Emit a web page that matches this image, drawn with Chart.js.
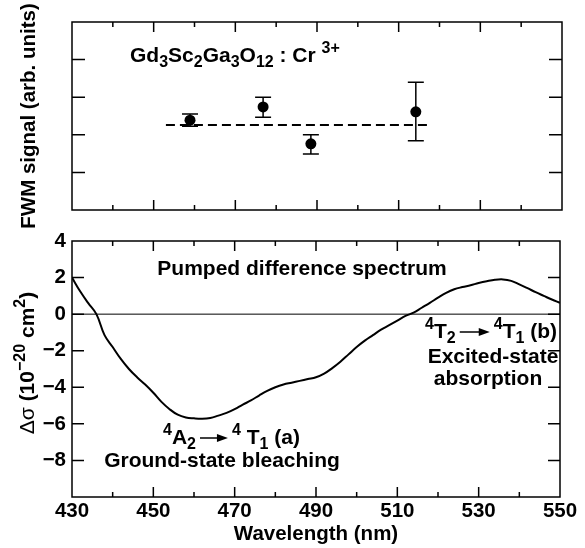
<!DOCTYPE html>
<html>
<head>
<meta charset="utf-8">
<script src="https://cdn.jsdelivr.net/npm/chart.js@4.4.1/dist/chart.umd.min.js"></script>
<style>
  html, body { margin: 0; padding: 0; background: #fff; }
  #wrap { position: relative; width: 585px; height: 548px; }
  canvas { position: absolute; left: 0; }
  #top { top: 0; }
  #bottom { top: 230px; }
</style>
</head>
<body>
<div id="wrap">
  <canvas id="top" width="585" height="230"></canvas>
  <canvas id="bottom" width="585" height="318"></canvas>
</div>
<script>
// Upper panel: FWM signal at four wavelengths
const fwmWavelength = [458.9, 476.8, 488.5, 514.2];
const fwmSignal = [2.39, 2.74, 1.76, 2.61];
const fwmErrLow = [2.23, 2.47, 1.49, 1.84];
const fwmErrHigh = [2.55, 3.00, 2.00, 3.40];
const fwmMeanX = [453.0, 517.2];
const fwmMeanY = [2.26, 2.26];

// Lower panel: pumped difference spectrum
const wavelength = [430, 432, 434, 436, 438, 440, 442, 444, 446, 448, 450, 452, 454, 456, 458, 460,
  462, 464, 466, 468, 470, 472, 474, 476, 478, 480, 482, 484, 486, 488, 490, 492, 494, 496, 498, 500,
  502, 504, 506, 508, 510, 512, 514, 516, 518, 520, 522, 524, 526, 528, 530, 532, 534, 536, 538, 540,
  542, 544, 546, 548, 550];
const deltaSigma = [2.0, 1.25, 0.6, 0.0, -1.15, -1.8, -2.45, -3.0, -3.45, -3.85, -4.3, -4.8, -5.2, -5.5, -5.65, -5.7,
  -5.72, -5.68, -5.55, -5.4, -5.2, -4.95, -4.72, -4.45, -4.2, -4.0, -3.85, -3.75, -3.65, -3.55, -3.45, -3.25,
  -2.95, -2.6, -2.2, -1.8, -1.45, -1.15, -0.85, -0.6, -0.35, -0.1, 0.08, 0.35, 0.62, 0.9, 1.16, 1.36,
  1.48, 1.58, 1.7, 1.8, 1.88, 1.9, 1.82, 1.63, 1.42, 1.2, 1.0, 0.8, 0.62];

// Axis ticks
const xTicksMajor = [450, 470, 490, 510, 530];
const xTicksMinor = [440, 460, 480, 500, 520, 540];
const xTickLabels = [430, 450, 470, 490, 510, 530, 550];
const yTicksTop = [1, 2, 3, 4];
const yTicksBottom = [-8, -6, -4, -2, 0, 2];

const FAMILY = '"Liberation Sans", Arial, Helvetica, sans-serif';
const BIG = 'bold 21px ' + FAMILY;
const SMALL = 'bold 16px ' + FAMILY;
const AXIS_FONT = { family: FAMILY, size: 20.5, weight: 'bold' };

const pts = (xs, ys) => xs.map((x, i) => ({ x, y: ys[i] }));

// keep chart area exactly where the layout padding puts it
const noOverhang = s => { s.paddingTop = 0; s.paddingBottom = 0; s.paddingLeft = 0; s.paddingRight = 0; };

// frame with inward ticks on all four sides
const framePlugin = (yTicks, yLen) => ({
  id: 'frame',
  afterDatasetsDraw(chart) {
    const { ctx, chartArea: a, scales: { x, y } } = chart;
    ctx.save();
    ctx.strokeStyle = '#000';
    ctx.lineWidth = 1.5;
    ctx.strokeRect(a.left, a.top, a.right - a.left, a.bottom - a.top);
    ctx.beginPath();
    for (const v of xTicksMajor.concat(xTicksMinor)) {
      const px = x.getPixelForValue(v);
      const len = xTicksMajor.includes(v) ? 10 : 5;
      ctx.moveTo(px, a.bottom); ctx.lineTo(px, a.bottom - len);
      ctx.moveTo(px, a.top); ctx.lineTo(px, a.top + len);
    }
    for (const v of yTicks) {
      const py = y.getPixelForValue(v);
      ctx.moveTo(a.left, py); ctx.lineTo(a.left + yLen, py);
      ctx.moveTo(a.right, py); ctx.lineTo(a.right - yLen, py);
    }
    ctx.stroke();
    ctx.restore();
  }
});

// text with sub/superscripts and arrows
function richWidth(ctx, parts) {
  let w = 0;
  for (const p of parts) {
    if (p.k === 'arrow') { w += p.w; continue; }
    ctx.font = p.font || (p.k ? SMALL : BIG);
    w += ctx.measureText(p.t).width;
  }
  return w;
}

function drawRich(ctx, parts, x, y, align) {
  const w = richWidth(ctx, parts);
  let cx = align === 'center' ? x - w / 2 : align === 'right' ? x - w : x;
  ctx.textAlign = 'left';
  ctx.textBaseline = 'alphabetic';
  for (const p of parts) {
    if (p.k === 'arrow') {
      const ay = y - 6, x0 = cx + 4, x1 = cx + p.w - 4;
      ctx.beginPath();
      ctx.lineWidth = 1.5;
      ctx.moveTo(x0, ay); ctx.lineTo(x1 - 8, ay);
      ctx.stroke();
      ctx.beginPath();
      ctx.moveTo(x1, ay); ctx.lineTo(x1 - 11, ay - 4); ctx.lineTo(x1 - 11, ay + 4);
      ctx.closePath();
      ctx.fill();
      cx += p.w;
      continue;
    }
    ctx.font = p.font || (p.k ? SMALL : BIG);
    const dy = p.k === 'sub' ? 5 : p.k === 'sup' ? -9 : 0;
    ctx.fillText(p.t, cx, y + dy);
    cx += ctx.measureText(p.t).width;
  }
}

const errorBarPlugin = {
  id: 'errorBars',
  afterDatasetsDraw(chart) {
    const { ctx, scales: { x, y } } = chart;
    ctx.save();
    ctx.strokeStyle = '#000';
    ctx.lineWidth = 1.5;
    ctx.beginPath();
    fwmWavelength.forEach((w, i) => {
      const px = x.getPixelForValue(w);
      const lo = y.getPixelForValue(fwmErrLow[i]);
      const hi = y.getPixelForValue(fwmErrHigh[i]);
      ctx.moveTo(px, lo); ctx.lineTo(px, hi);
      ctx.moveTo(px - 8, lo); ctx.lineTo(px + 8, lo);
      ctx.moveTo(px - 8, hi); ctx.lineTo(px + 8, hi);
    });
    ctx.stroke();
    ctx.fillStyle = '#000';
    drawRich(ctx, [
      { t: 'Gd' }, { t: '3', k: 'sub' }, { t: 'Sc' }, { t: '2', k: 'sub' },
      { t: 'Ga' }, { t: '3', k: 'sub' }, { t: 'O' }, { t: '12', k: 'sub' },
      { t: ' : Cr ' }, { t: '3+', k: 'sup' }
    ], 130, 62, 'left');
    ctx.restore();
  }
};

const labelPlugin = {
  id: 'labels',
  afterDatasetsDraw(chart) {
    const { ctx } = chart;
    ctx.save();
    ctx.fillStyle = '#000';
    ctx.strokeStyle = '#000';
    drawRich(ctx, [{ t: 'Pumped difference spectrum' }], 302, 45, 'center');
    drawRich(ctx, [
      { t: '4', k: 'sup' }, { t: 'A' }, { t: '2', k: 'sub' }, { k: 'arrow', w: 36 },
      { t: '4', k: 'sup' }, { t: ' T' }, { t: '1', k: 'sub' }, { t: ' (a)' }
    ], 163, 214, 'left');
    drawRich(ctx, [{ t: 'Ground-state bleaching' }], 222, 237, 'center');
    drawRich(ctx, [
      { t: '4', k: 'sup' }, { t: 'T' }, { t: '2', k: 'sub' }, { k: 'arrow', w: 38 },
      { t: '4', k: 'sup' }, { t: 'T' }, { t: '1', k: 'sub' }, { t: ' (b)' }
    ], 557, 108, 'right');
    drawRich(ctx, [{ t: 'Excited-state' }], 493, 133, 'center');
    drawRich(ctx, [{ t: 'absorption' }], 488, 155, 'center');

    // rotated y-axis title
    ctx.translate(27, 133);
    ctx.rotate(-Math.PI / 2);
    drawRich(ctx, [
      { t: 'Δσ ', font: '21px ' + FAMILY }, { t: '(10' }, { t: '−20', k: 'sup' },
      { t: ' cm' }, { t: '2', k: 'sup' }, { t: ')' }
    ], 0, 7, 'center');
    ctx.restore();
  }
};

const common = {
  responsive: false,
  animation: false,
  events: [],
  plugins: { legend: { display: false }, tooltip: { enabled: false } },
};

new Chart(document.getElementById('top'), {
  type: 'line',
  data: {
    datasets: [
      {
        data: pts(fwmMeanX, fwmMeanY),
        borderColor: '#000', borderWidth: 2, borderDash: [9, 5], pointRadius: 0,
      },
      {
        data: pts(fwmWavelength, fwmSignal),
        showLine: false, pointRadius: 5.5,
        backgroundColor: '#000', borderColor: '#000', borderWidth: 0,
      },
    ],
  },
  options: {
    ...common,
    layout: { padding: { left: 0, top: 22, right: 23, bottom: 0 } },
    scales: {
      x: {
        type: 'linear', min: 430, max: 550,
        grid: { display: false, drawTicks: false }, border: { display: false },
        ticks: { display: false },
        afterFit: s => { s.height = 20; noOverhang(s); },
      },
      y: {
        min: 0, max: 5,
        grid: { display: false, drawTicks: false }, border: { display: false },
        ticks: { display: false },
        title: {
          display: true, text: 'FWM signal (arb. units)', color: '#000',
          font: AXIS_FONT, padding: { top: 17, bottom: 0 },
        },
        afterFit: s => { s.width = 72; noOverhang(s); },
      },
    },
  },
  plugins: [framePlugin(yTicksTop, 13), errorBarPlugin],
});

new Chart(document.getElementById('bottom'), {
  type: 'line',
  data: {
    datasets: [
      {
        data: pts([430, 550], [0, 0]),
        borderColor: '#000', borderWidth: 1, pointRadius: 0,
      },
      {
        data: pts(wavelength, deltaSigma),
        borderColor: '#000', borderWidth: 2, pointRadius: 0, tension: 0.4,
      },
    ],
  },
  options: {
    ...common,
    layout: { padding: { left: 0, top: 11, right: 25, bottom: 0 } },
    scales: {
      x: {
        type: 'linear', min: 430, max: 550,
        grid: { display: false, drawTicks: false }, border: { display: false },
        ticks: {
          stepSize: 10, autoSkip: false, maxRotation: 0, padding: 2, color: '#000',
          font: AXIS_FONT,
          callback: v => (xTickLabels.includes(v) ? String(v) : ''),
        },
        title: {
          display: true, text: 'Wavelength (nm)', color: '#000',
          font: AXIS_FONT, padding: { top: 0, bottom: 1 },
        },
        afterFit: s => { s.height = 51; noOverhang(s); },
      },
      y: {
        min: -10, max: 4,
        grid: { display: false, drawTicks: false }, border: { display: false },
        ticks: {
          stepSize: 2, padding: 6, color: '#000',
          font: AXIS_FONT,
          callback: v => (v === -10 ? '' : v < 0 ? '−' + Math.abs(v) : String(v)),
        },
        afterFit: s => { s.width = 72; noOverhang(s); },
      },
    },
  },
  plugins: [framePlugin(yTicksBottom, 12), labelPlugin],
});
</script>
</body>
</html>
